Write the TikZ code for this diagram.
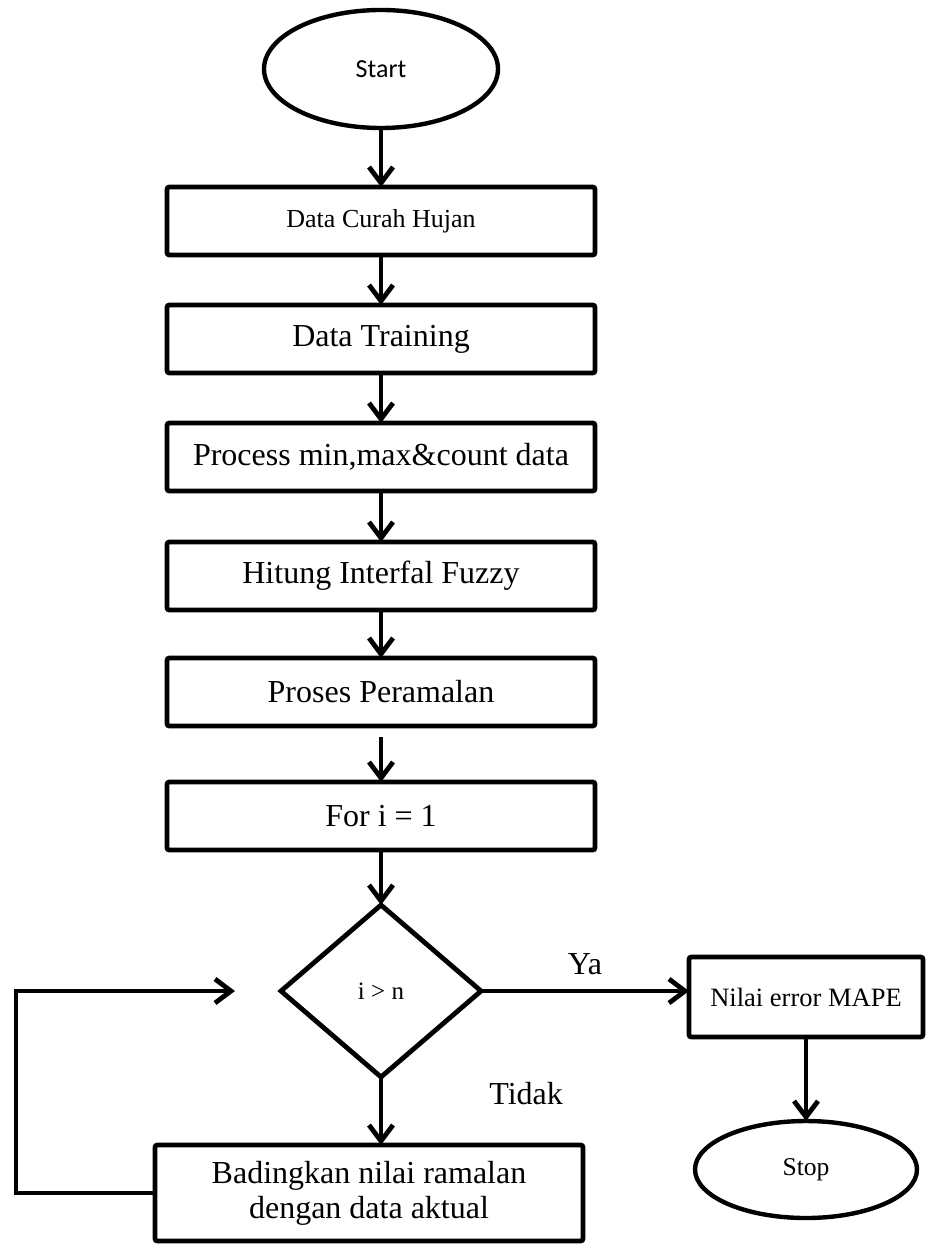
\documentclass[tikz,border=0pt]{standalone}
\usepackage{fontspec}
\setmainfont{Liberation Serif}
\newfontfamily\startfont{Carlito}
\usepackage{tikz}
\usetikzlibrary{arrows.meta,positioning,shapes.geometric}

\begin{document}
\begin{tikzpicture}[
  box/.style={draw, line width=2.4pt, rounded corners=1.2pt, outer sep=0pt,
              minimum width=214pt, minimum height=34pt,
              font=\fontsize{16}{17.5}\selectfont, align=center},
  term/.style={draw, ellipse, line width=2.2pt, outer sep=0pt, inner sep=0pt},
  decision/.style={draw, diamond, line width=2.4pt, outer sep=0pt, inner sep=0pt,
                   minimum width=100pt, minimum height=86pt, font=\fontsize{12.5}{14}\selectfont},
  arr/.style={-{Straight Barb[length=8pt,width=12pt]}, line width=2.4pt},
  lbl/.style={inner sep=0pt, font=\fontsize{16}{18}\selectfont}
]
\useasboundingbox (0,0) rectangle (464pt,-622.5pt);

\node[term, minimum width=117pt, minimum height=59pt, font=\startfont\fontsize{13}{15}\selectfont]
  (start) at (190.5pt,-34.5pt) {Start};
\node[box, below=29.5pt of start, font=\fontsize{13}{15}\selectfont] (curah) {Data Curah Hujan};
\node[box, below=25pt of curah] (training) {Data Training};
\node[box, below=25pt of training] (minmax) {Process min,max\&count data};
\node[box, below=25.5pt of minmax] (interval) {Hitung Interfal Fuzzy};
\node[box, below=24pt of interval] (ramal) {Proses Peramalan};
\node[box, below=28pt of ramal] (fori) {For i = 1};
\node[decision, below=27.5pt of fori] (cond) {i > n};
\node[box, below=34pt of cond, xshift=-6pt, minimum height=48pt] (banding)
  {Badingkan nilai ramalan\\dengan data aktual};
\node[box, right=104pt of cond, yshift=-3pt, minimum width=117pt, minimum height=40pt,
      font=\fontsize{13.25}{15}\selectfont] (mape) {Nilai error MAPE};
\node[term, below=42pt of mape, minimum width=111pt, minimum height=48.5pt,
      font=\fontsize{12.8}{15}\selectfont] (stop) {Stop};
\coordinate[left=23pt of cond.west] (loopin);

\draw[arr] (start) -- (curah);
\draw[arr] (curah) -- (training);
\draw[arr] (training) -- (minmax);
\draw[arr] (minmax) -- (interval);
\draw[arr] (interval) -- (ramal);
\draw[arr, shorten <=5.5pt] (ramal) -- (fori);
\draw[arr] (fori) -- (cond);
\draw[arr] (cond.east) -- node[lbl, above=7pt] (ya) {Ya} (cond.east -| mape.west);
\draw[arr] (cond.south) -- node[lbl, pos=0.24, right=53pt] (tidak) {Tidak} (cond.south |- banding.north);
\draw[arr] (mape) -- (stop);
\draw[arr] (banding.west) -- ++(-69.5pt,0) |- (loopin);
\end{tikzpicture}
\end{document}
